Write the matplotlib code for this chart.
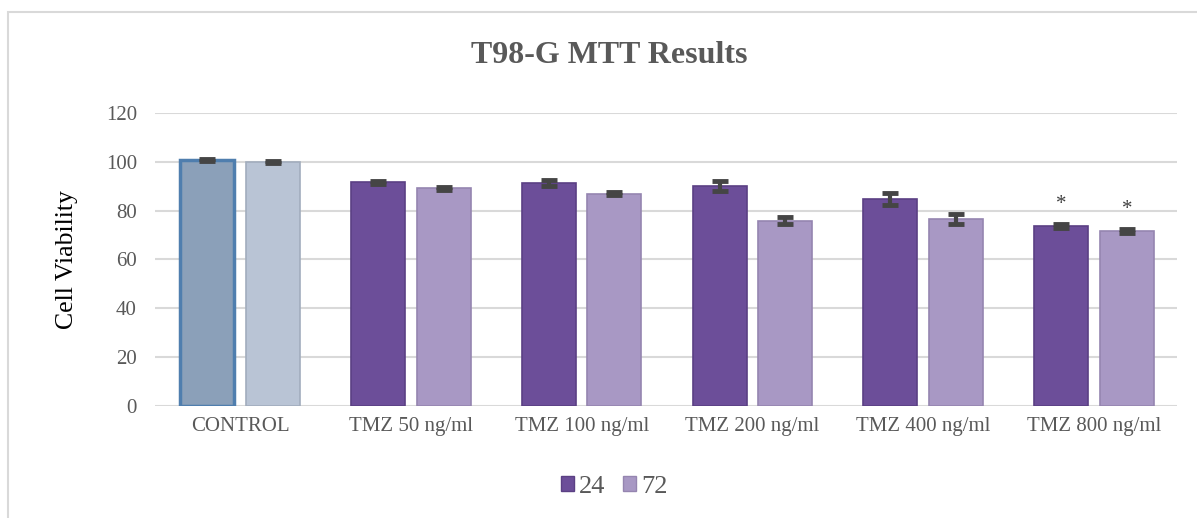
import numpy as np
import matplotlib.pyplot as plt
from matplotlib.patches import Rectangle, Patch

# 資料
categories = ["CONTROL", "TMZ 50 ng/ml", "TMZ 100 ng/ml", "TMZ 200 ng/ml",
              "TMZ 400 ng/ml", "TMZ 800 ng/ml"]
viability_24 = [100.8, 91.5, 91.3, 90.2, 84.8, 73.6]
viability_72 = [100.0, 89.2, 86.8, 75.8, 76.6, 71.6]
err_24 = [0.5, 0.8, 1.2, 2.0, 2.5, 0.8]
err_72 = [0.5, 0.6, 0.6, 1.5, 2.0, 1.0]
significant = [False, False, False, False, False, True]
series_names = ["24", "72"]

plt.rcParams['font.family'] = ['Liberation Serif', 'DejaVu Serif']

fig = plt.figure(figsize=(11.97, 5.18), dpi=100)
ax = fig.add_axes([155 / 1197, 1 - 405.6 / 518, 1022 / 1197, 292.6 / 518])

x = np.arange(len(categories))
w = 0.316
off = 0.192

col_24 = ['#8ba0b9'] + ['#6c4e99'] * 5
edge_24 = ['#4f7eae'] + ['#5b4084'] * 5
col_72 = ['#b9c4d5'] + ['#a898c4'] * 5
edge_72 = ['#a2adbd'] + ['#9585b0'] * 5
lw_24 = [2.5] + [1.2] * 5

ax.bar(x - off, viability_24, w, color=col_24, edgecolor=edge_24, linewidth=lw_24,
       zorder=2)
ax.bar(x + off, viability_72, w, color=col_72, edgecolor=edge_72, linewidth=1.2,
       zorder=2)

ax.errorbar(x - off, viability_24, yerr=err_24, fmt='none', ecolor='#454545',
            elinewidth=3, capsize=6, capthick=3.5, zorder=3)
ax.errorbar(x + off, viability_72, yerr=err_72, fmt='none', ecolor='#454545',
            elinewidth=3, capsize=6, capthick=3.5, zorder=3)

# 顯著性星號
for i, s in enumerate(significant):
    if s:
        ax.text(x[i] - off, viability_24[i] + 7, "*", ha='center',
                va='baseline', fontsize=15, color='#404040')
        ax.text(x[i] + off, viability_72[i] + 7, "*", ha='center',
                va='baseline', fontsize=15, color='#404040')

ax.set_xlim(-0.498, 5.486)
ax.set_ylim(0, 120)
ax.set_yticks(range(0, 121, 20))
ax.set_xticks(x)
ax.set_xticklabels(categories)
ax.tick_params(axis='both', length=0, labelsize=15, colors='#595959')
ax.tick_params(axis='x', pad=8.5)
ax.tick_params(axis='y', pad=13)
ax.grid(axis='y', color='#d9d9d9', linewidth=1.5, zorder=0)
ax.set_axisbelow(True)
for sp in ax.spines.values():
    sp.set_visible(False)

ax.set_ylabel("Cell Viability", fontsize=18.5, color='black')
ax.yaxis.set_label_coords(-0.0755, 0.5)
fig.text(609.5 / 1197, 1 - 63 / 518, "T98-G MTT Results", ha='center',
         va='baseline', fontsize=23, fontweight='bold', color='#595959')

handles = [Patch(facecolor='#6c4e99', edgecolor='#5b4084', label=series_names[0]),
           Patch(facecolor='#a898c4', edgecolor='#9585b0', label=series_names[1])]
leg = fig.legend(handles=handles, loc='center',
                 bbox_to_anchor=(614 / 1197, 1 - 487 / 518), ncol=2,
                 frameon=False, fontsize=19, handlelength=0.5, handleheight=0.5,
                 handletextpad=0.2, columnspacing=0.65, borderpad=0)
for t in leg.get_texts():
    t.set_color('#595959')

# 外框
fig.patches.append(Rectangle((8 / 1197, -0.1), 1.2, 1 - 12 / 518 + 0.1,
                             transform=fig.transFigure, fill=False,
                             edgecolor='#d9d9d9', linewidth=1.5))

fig.savefig("out.png", dpi=100)
